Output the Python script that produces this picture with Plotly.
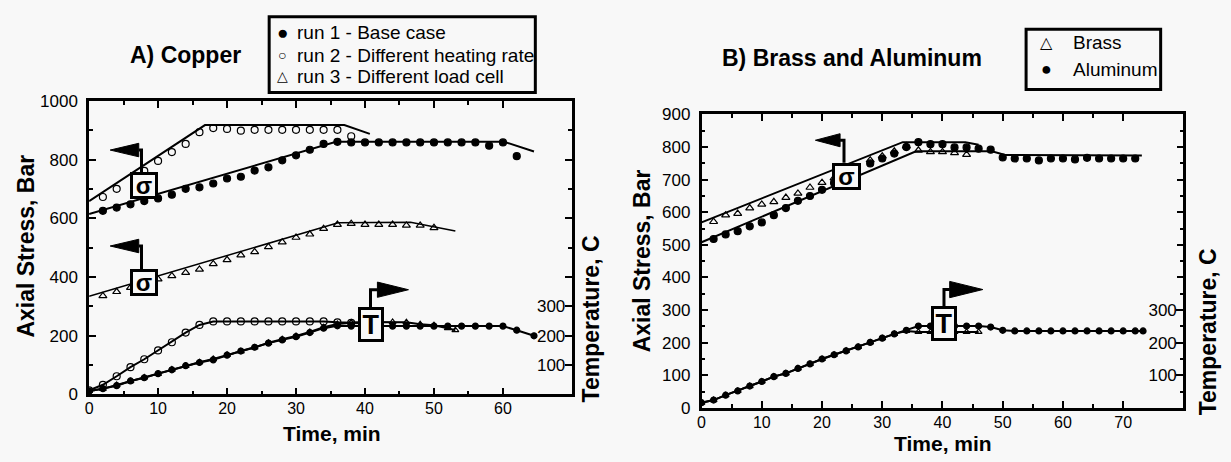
import plotly.graph_objects as go

W, H = 1231, 462
FONT = "Liberation Sans, Arial, Helvetica, sans-serif"
BG = "#f8f8f8"

# ---------------- Panel A: Copper ----------------
# stress model lines (Bar)
a_run1_line_t = [0, 35.8, 60.2, 64.5]
a_run1_line_s = [615, 861, 861, 828]
a_run2_line_t = [0, 16.8, 37, 40.7]
a_run2_line_s = [659, 918, 918, 888]
a_run3_line_t = [0, 36.1, 46.6, 53.1]
a_run3_line_s = [335, 585, 587, 557]

# stress measured points (Bar)
a_run1_t = [2, 4, 6, 8, 10, 12, 14, 16, 18, 20, 22, 24, 26, 28, 30, 32, 34, 36, 38, 40,
            42, 44, 46, 48, 50, 52, 54, 56, 58, 60, 62]
a_run1_s = [626, 637, 648, 659, 668, 681, 701, 706, 719, 736, 742, 763, 774, 798, 815, 834,
            854, 861, 859, 859, 859, 859, 859, 859, 859, 859, 859, 859, 848, 859, 812]
a_run2_t = [2, 4, 8, 10, 12, 14, 16, 18, 20, 22, 24, 26, 28, 30, 32, 34, 36, 38]
a_run2_s = [673, 701, 762, 796, 826, 854, 894, 908, 905, 899, 902, 902, 902, 902, 902, 902,
            902, 880]
a_run3_t = [2, 4, 6, 8, 10, 12, 14, 16, 18, 20, 22, 24, 26, 28, 30, 32, 34, 36, 38, 40, 42,
            44, 46, 48, 50]
a_run3_s = [336, 350, 364, 379, 393, 404, 415, 426, 445, 459, 475, 486, 503, 519, 535, 546,
            565, 579, 582, 579, 579, 579, 576, 576, 568]

# temperature (C)
a_run1_T_t = [0, 2, 4, 6, 8, 10, 12, 14, 16, 18, 20, 22, 24, 26, 28, 30, 32, 34, 36, 38, 40,
              42, 44, 46, 48, 50, 52, 54, 56, 58, 60, 62, 64.5]
a_run1_T = [11, 20, 30, 46, 57, 71, 84, 98, 109, 118, 134, 148, 161, 175, 186, 197, 211, 226,
            234, 233, 233, 233, 233, 233, 233, 233, 233, 233, 233, 233, 233, 219, 200]
a_run2_T_t = [0, 2, 4, 6, 8, 10, 12, 14, 16, 18, 20, 22, 24, 26, 28, 30, 32, 34, 36, 38, 40]
a_run2_T = [14, 33, 62, 93, 120, 150, 178, 211, 237, 249, 249, 249, 249, 249, 249, 249, 249,
            249, 246, 244, 243]
a_run3_T_t = [0, 2, 4, 6, 8, 10, 12, 14, 16, 18, 20, 22, 24, 26, 28, 30, 32, 34, 36, 38, 40,
              42, 44, 46, 48, 50, 52, 53.1]
a_run3_T = [12, 19, 32, 45, 58, 70, 85, 97, 110, 121, 135, 147, 160, 176, 188, 199, 213, 229,
            240, 245, 247, 247, 247, 246, 239, 236, 226, 219]

# ---------------- Panel B: Brass and Aluminum ----------------
b_brass_line_t = [0, 33.4, 43.8, 46]
b_brass_line_s = [569, 815, 815, 807]
b_alum_line_t = [0, 35.6, 48.2, 50.4, 73.1]
b_alum_line_s = [508, 787, 787, 776, 774]

b_brass_t = [2, 4, 6, 8, 10, 12, 14, 16, 18, 20, 22, 24, 28, 30, 32, 34, 36, 38, 40, 42, 44]
b_brass_s = [571, 591, 596, 613, 624, 632, 645, 658, 676, 691, 705, 718, 760, 772, 787, 803,
             790, 785, 785, 782, 777]
b_alum_t = [2, 4, 6, 8, 10, 12, 14, 16, 18, 20, 22, 24, 28, 30, 32, 34, 36, 38, 40, 42, 44,
            46, 48, 50, 52, 54, 56, 58, 60, 62, 64, 66, 68, 70, 72]
b_alum_s = [518, 532, 542, 557, 569, 591, 613, 635, 650, 669, 690, 705, 750, 765, 780, 800,
            815, 809, 809, 799, 799, 795, 792, 768, 765, 765, 759, 765, 765, 762, 767, 765,
            765, 765, 765]

b_brass_T_t = [0, 2, 4, 6, 8, 10, 12, 14, 16, 18, 20, 22, 24, 26, 28, 30, 32, 34, 36, 38, 40,
               42, 44, 46]
b_brass_T = [16, 24, 39, 52, 67, 81, 96, 106, 121, 135, 150, 163, 175, 187, 201, 214, 227,
             236, 233, 233, 233, 233, 233, 233]
b_alum_T_t = [0, 2, 4, 6, 8, 10, 12, 14, 16, 18, 20, 22, 24, 26, 28, 30, 32, 34, 36, 38, 40,
              42, 44, 46, 48, 50, 52, 54, 56, 58, 60, 62, 64, 66, 68, 70, 72, 73.3]
b_alum_T = [16, 24, 39, 52, 67, 81, 96, 106, 121, 135, 150, 163, 175, 187, 201, 214, 227, 238,
            251, 251, 251, 251, 251, 251, 248, 238, 236, 236, 236, 236, 236, 236, 236, 236,
            236, 236, 236, 236]

fig = go.Figure()

def line(x, y, xa, ya, w=2, dash=None):
    fig.add_trace(go.Scatter(x=x, y=y, mode="lines", xaxis=xa, yaxis=ya, showlegend=False,
                             line=dict(color="black", width=w, dash=dash), hoverinfo="skip"))

def pts(x, y, xa, ya, symbol, size):
    fig.add_trace(go.Scatter(x=x, y=y, mode="markers", xaxis=xa, yaxis=ya, showlegend=False,
                             marker=dict(symbol=symbol, size=size, color="black",
                                         line=dict(color="black", width=1.2))))

def linepts(x, y, xa, ya, symbol, size):
    fig.add_trace(go.Scatter(x=x, y=y, mode="lines+markers", xaxis=xa, yaxis=ya,
                             showlegend=False, line=dict(color="black", width=2),
                             marker=dict(symbol=symbol, size=size, color="black",
                                         line=dict(color="black", width=1.2))))

# Panel A stress
line(a_run1_line_t, a_run1_line_s, "x", "y")
line(a_run2_line_t, a_run2_line_s, "x", "y")
line(a_run3_line_t, a_run3_line_s, "x", "y", w=1.5)
pts(a_run1_t, a_run1_s, "x", "y", "circle", 7)
pts(a_run2_t, a_run2_s, "x", "y", "circle-open", 7)
pts(a_run3_t, a_run3_s, "x", "y", "triangle-up-open", 7)
# Panel A temperature
linepts(a_run1_T_t, a_run1_T, "x", "y2", "circle", 6)
linepts(a_run2_T_t, a_run2_T, "x", "y2", "circle-open", 7)
linepts(a_run3_T_t, a_run3_T, "x", "y2", "triangle-up-open", 6)

# Panel B stress
line(b_brass_line_t, b_brass_line_s, "x2", "y3")
line(b_alum_line_t, b_alum_line_s, "x2", "y3")
pts(b_brass_t, b_brass_s, "x2", "y3", "triangle-up-open", 7)
pts(b_alum_t, b_alum_s, "x2", "y3", "circle", 7)
# Panel B temperature
linepts(b_brass_T_t, b_brass_T, "x2", "y4", "triangle-up-open", 6)
linepts(b_alum_T_t, b_alum_T, "x2", "y4", "circle", 6)

def px_x(p):
    return p / W

def px_y(p):
    return 1 - p / H

tickfont = dict(family=FONT, size=17, color="black")
xtickfont = dict(family=FONT, size=16, color="black")
common = dict(showline=True, linecolor="black", linewidth=2.5, mirror="ticks", ticks="inside",
              tickcolor="black", ticklen=7, tickwidth=1.5, showgrid=False, zeroline=False)

fig.update_layout(
    width=W, height=H, margin=dict(l=0, r=0, t=0, b=0),
    paper_bgcolor=BG, plot_bgcolor=BG, showlegend=False,
    font=dict(family=FONT, color="black"),
    xaxis=dict(domain=[px_x(86), px_x(574)], range=[0, 70], dtick=10, anchor="y",
               ticklabelstandoff=-2, tickfont=xtickfont,
               minor=dict(ticks="inside", dtick=5, ticklen=4, tickcolor="black"), **common),
    yaxis=dict(domain=[px_y(402), px_y(96)], range=[0, 1000], dtick=200, anchor="x",
               ticklabelstandoff=5, tickfont=tickfont,
               minor=dict(ticks="inside", dtick=100, ticklen=4, tickcolor="black"), **common),
    yaxis2=dict(overlaying="y", side="right", anchor="x", range=[0, 1000],
                tickvals=[100, 200, 300], ticks="inside", ticklen=7, tickcolor="black",
                tickwidth=1.5, ticklabelposition="inside", showline=False, showgrid=False,
                zeroline=False, tickfont=tickfont),
    xaxis2=dict(domain=[px_x(705), px_x(1192)], range=[0, 80], dtick=10, anchor="y3",
                ticklabelstandoff=-2, tickfont=xtickfont,
                minor=dict(ticks="inside", dtick=5, ticklen=4, tickcolor="black"), **common),
    yaxis3=dict(domain=[px_y(416), px_y(110)], range=[0, 900], dtick=100, anchor="x2",
                ticklabelstandoff=5, tickfont=tickfont,
                minor=dict(ticks="inside", dtick=50, ticklen=4, tickcolor="black"), **common),
    yaxis4=dict(overlaying="y3", side="right", anchor="x2", range=[0, 900],
                tickvals=[100, 200, 300], ticks="inside", ticklen=7, tickcolor="black",
                tickwidth=1.5, ticklabelposition="inside", showline=False, showgrid=False,
                zeroline=False, tickfont=tickfont),
)

ann = []

def text(x, y, t, size, angle=0, xanchor="center", bold=True):
    ann.append(dict(x=px_x(x), y=px_y(y), xref="paper", yref="paper", showarrow=False,
                    text=("<b>%s</b>" % t) if bold else t, textangle=angle, xanchor=xanchor,
                    yanchor="middle", font=dict(family=FONT, size=size, color="black")))

# titles
text(183, 48, "A) Copper", 23)
text(857, 51, "B) Brass and Aluminum", 23)
# axis titles
text(22, 247, "Axial Stress, Bar", 23, angle=-90)
text(645, 263, "Axial Stress, Bar", 23, angle=-90)
text(593, 323, "Temperature, C", 23, angle=-90)
text(1217, 337, "Temperature, C", 23, angle=-90)
text(331, 443, "Time, min", 21)
text(949, 453, "Time, min", 21)

# legends (manual)
shapes = []
shapes.append(dict(type="rect", xref="paper", yref="paper", x0=px_x(268), x1=px_x(537),
                   y0=px_y(87), y1=px_y(8), line=dict(color="black", width=3)))
shapes.append(dict(type="rect", xref="paper", yref="paper", x0=px_x(1033), x1=px_x(1169),
                   y0=px_y(84), y1=px_y(21), line=dict(color="black", width=3)))

legA = ["run 1 - Base case", "run 2 - Different heating rate", "run 3 - Different load cell"]
legA_sym = [("\u25CF", 19), ("\u25CB", 14), ("\u25B3", 14)]
legA_y = [25, 48, 70]
for lab, (sym, ss), yy in zip(legA, legA_sym, legA_y):
    text(281, yy, sym, ss, bold=False)
    text(294, yy, lab, 19, xanchor="left", bold=False)

legB = ["Brass", "Aluminum"]
legB_sym = [("\u25B3", 16), ("\u25CF", 18)]
legB_y = [35, 63]
for lab, (sym, ss), yy in zip(legB, legB_sym, legB_y):
    text(1054, yy, sym, ss, bold=False)
    text(1078, yy, lab, 19, xanchor="left", bold=False)

# sigma / T flag markers
def flag_box(xr, yr, x, y, t, w, h, size):
    ann.append(dict(x=x, y=y, xref=xr, yref=yr, showarrow=False, text="<b>%s</b>" % t,
                    width=w, height=h, bgcolor=BG, bordercolor="black", borderwidth=3,
                    borderpad=0, font=dict(family=FONT, size=size, color="black")))

def flag(xr, yr, xs, y0, y1, xb, xtip, half):
    shapes.append(dict(type="path", xref=xr, yref=yr,
                       path="M %g,%g L %g,%g L %g,%g" % (xs, y0, xs, y1, xb, y1),
                       line=dict(color="black", width=3)))
    shapes.append(dict(type="path", xref=xr, yref=yr,
                       path="M %g,%g L %g,%g L %g,%g Z" % (xtip, y1, xb, y1 + half, xb, y1 - half),
                       fillcolor="black", line=dict(color="black", width=1)))

flag("x", "y", 7.6, 757, 833, 7.2, 3.06, 23)
flag("x", "y", 7.6, 426, 506, 7.2, 3.06, 23)
flag("x", "y", 40.8, 295, 357, 41.8, 46.3, 26)
flag("x2", "y3", 23.65, 752, 821, 23.0, 18.9, 20)
flag("x2", "y3", 40.25, 310, 363, 41.2, 46.7, 25)

flag_box("x", "y", 7.9, 712, "\u03C3", 22, 21, 24)
flag_box("x", "y", 7.9, 381, "\u03C3", 22, 21, 24)
flag_box("x", "y", 40.9, 239, "T", 20, 29, 27)
flag_box("x2", "y3", 24.1, 711, "\u03C3", 23, 21, 24)
flag_box("x2", "y3", 40.3, 259, "T", 20, 29, 27)

fig.update_layout(annotations=ann, shapes=shapes)
fig.write_html("out.html")
